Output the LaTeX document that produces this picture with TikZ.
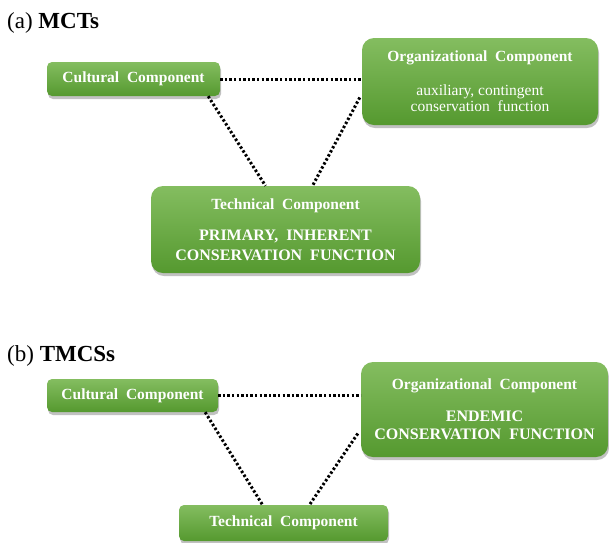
\documentclass[tikz,border=0pt]{standalone}
\usepackage{fontspec}
\setmainfont{Liberation Serif}
\usetikzlibrary{calc,shadows}
\definecolor{gtop}{HTML}{84BD60}
\definecolor{gbot}{HTML}{55992F}
\tikzset{
  comp/.style={rounded corners=#1, top color=gtop, bottom color=gbot, draw=none,
    text=white, align=center, inner sep=0pt,
    drop shadow={shadow xshift=1pt, shadow yshift=-3pt, opacity=0.35, fill=black!70}},
  dotline/.style={line width=3pt, dash pattern=on 2.4pt off 2.2pt, black},
  ttl/.style={anchor=west, font=\fontsize{23}{27}\selectfont, inner sep=0pt},
}
\begin{document}
\begin{tikzpicture}[x=1pt,y=1pt]
\useasboundingbox (0,0) rectangle (609,-542);
% panel (a)
\node[ttl] (ta) at (7,-23) {(a) \textbf{MCTs}};
\node[comp=5pt, minimum width=173pt, minimum height=34pt, font=\fontsize{15.5}{18}\bfseries] (culta) at (133.5,-79) {Cultural\ \ Component};
\node[comp=12pt, minimum width=236pt, minimum height=87pt, font=\fontsize{15.5}{16.5}\selectfont] (orga) at (480,-81.5)
  {\textbf{Organizational\ \ Component}\\[17pt]auxiliary, contingent\\conservation\ \ function};
\node[comp=12pt, minimum width=269pt, minimum height=87pt, font=\fontsize{15.5}{20}\selectfont] (techa) at (285.5,-229.5)
  {\textbf{Technical\ \ Component}\\[11pt]{\fontsize{16}{20}\bfseries PRIMARY,\ \ INHERENT}\\{\fontsize{16}{20}\bfseries CONSERVATION\ \ FUNCTION}};
\coordinate (a1) at ($(culta.south east)+(-12,0)$);
\coordinate (a2) at ($(techa.north)+(-20,0)$);
\coordinate (a3) at ($(orga.west)+(-2,-16)$);
\coordinate (a4) at ($(techa.north)+(27,0)$);
\draw[dotline] (culta.east) -- (culta.east -| orga.west);
\draw[dotline] (a1) -- (a2);
\draw[dotline] (a3) -- (a4);
% panel (b)
\node[ttl] (tb) at (7,-355.5) {(b) \textbf{TMCSs}};
\node[comp=5pt, minimum width=171pt, minimum height=33pt, font=\fontsize{15.5}{18}\bfseries] (cultb) at (132.5,-395.5) {Cultural\ \ Component};
\node[comp=12pt, minimum width=247pt, minimum height=95pt, font=\fontsize{15.5}{18}\bfseries] (orgb) at (484.5,-409.5)
  {Organizational\ \ Component\\[14pt]{\fontsize{16}{18}\selectfont ENDEMIC}\\{\fontsize{16}{18}\selectfont CONSERVATION\ \ FUNCTION}};
\node[comp=5pt, minimum width=209pt, minimum height=36pt, font=\fontsize{15.5}{18}\bfseries] (techb) at (283.5,-523) {Technical\ \ Component};
\coordinate (b1) at ($(cultb.south east)+(-13,0)$);
\coordinate (b2) at ($(techb.north)+(-21,0)$);
\coordinate (b3) at ($(orgb.west)+(-3,-24)$);
\coordinate (b4) at ($(techb.north)+(26,0)$);
\draw[dotline] (cultb.east) -- (cultb.east -| orgb.west);
\draw[dotline] (b1) -- (b2);
\draw[dotline] (b3) -- (b4);
\end{tikzpicture}
\end{document}
